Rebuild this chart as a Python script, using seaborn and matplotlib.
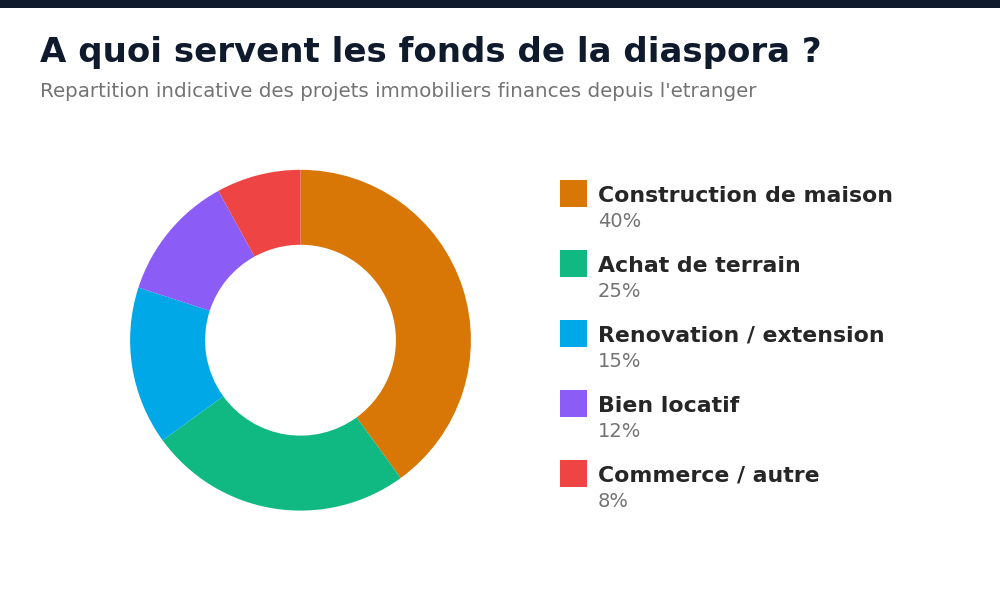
import matplotlib
matplotlib.use("Agg")
import matplotlib.pyplot as plt
import seaborn as sns
from matplotlib.patches import Rectangle

# Data
categories = ['Construction de maison', 'Achat de terrain', 'Renovation / extension',
              'Bien locatif', 'Commerce / autre']
shares = [40, 25, 15, 12, 8]
colors = ['#d97706', '#10b981', '#00a8e8', '#8b5cf6', '#ef4444']

sns.set_theme(style="white")
plt.rcParams['font.family'] = ['DejaVu Sans']

fig = plt.figure(figsize=(10, 6), dpi=100)
fig.patch.set_facecolor('white')

# Top dark band
fig.add_artist(Rectangle((0, 1 - 8 / 600), 1, 8 / 600, transform=fig.transFigure,
                         color='#0f1b2d', lw=0))

fig.text(0.04, 1 - 52.5 / 600, "A quoi servent les fonds de la diaspora ?",
         fontsize=24.5, fontweight='bold', color='#0f1b2d', va='center')
fig.text(0.04, 1 - 91.5 / 600, "Repartition indicative des projets immobiliers finances depuis l'etranger",
         fontsize=14.3, color='#737373', va='center')

# Donut
ax = fig.add_axes([0.13, 0.149, 0.341, 0.568])
ax.pie(shares, colors=sns.color_palette(colors), startangle=90, counterclock=False,
       radius=1, wedgeprops=dict(width=0.44, linewidth=0))
ax.set_xlim(-1, 1)
ax.set_ylim(-1, 1)
ax.set_aspect('equal')
ax.axis('off')

# Custom legend
lax = fig.add_axes([0, 0, 1, 1])
lax.set_xlim(0, 1000)
lax.set_ylim(600, 0)
lax.axis('off')
for i, (cat, val, col) in enumerate(zip(categories, shares, colors)):
    y0 = 180 + 70 * i
    lax.add_patch(Rectangle((560, y0), 27, 27, color=col, lw=0))
    lax.text(598, y0 + 15.5, cat, fontsize=15.8, fontweight='bold', color='#262626', va='center')
    lax.text(598, y0 + 41.5, f"{val}%", fontsize=14, color='#737373', va='center')

fig.savefig("out.png", dpi=100, facecolor='white')
